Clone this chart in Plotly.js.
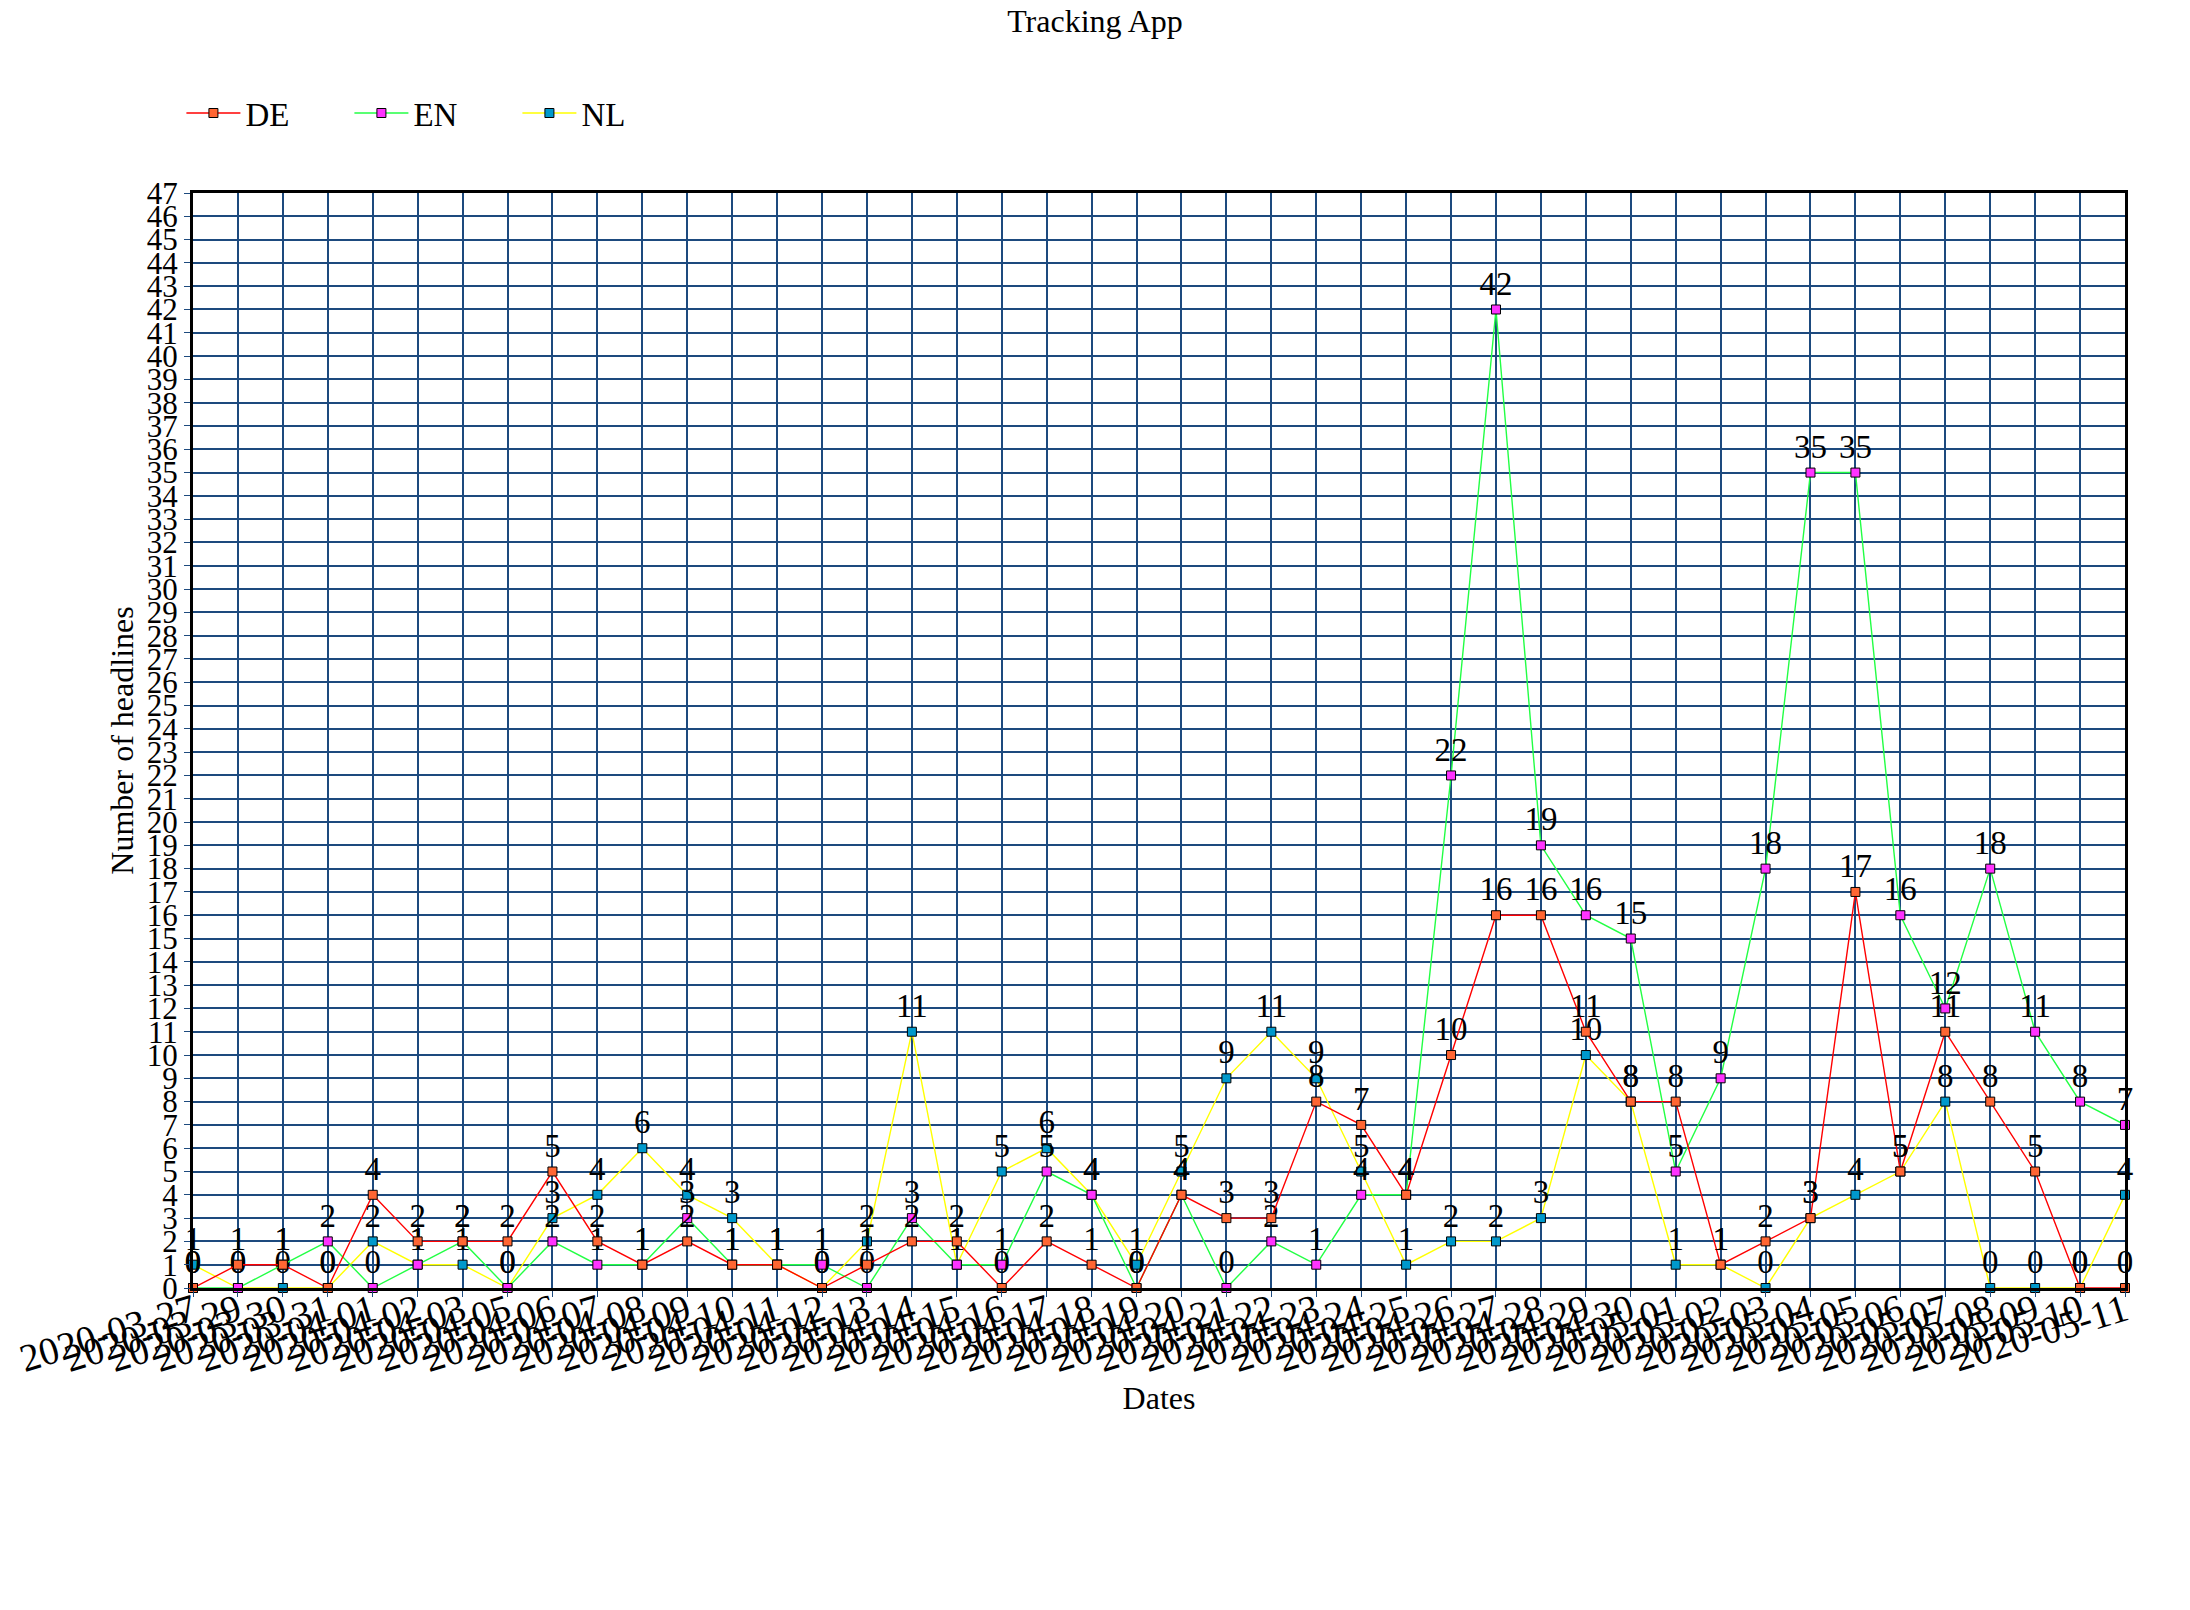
<!DOCTYPE html>
<html>
<head>
<meta charset="utf-8">
<script src="https://cdn.plot.ly/plotly-3.0.1.min.js"></script>
<style>html,body{margin:0;padding:0;background:#fff;}#chart{width:2190px;height:1610px;}</style>
</head>
<body>
<div id="chart"></div>
<script>
const dates = ['2020-03-27','2020-03-29','2020-03-30','2020-03-31','2020-04-01','2020-04-02','2020-04-03','2020-04-05','2020-04-06','2020-04-07','2020-04-08','2020-04-09','2020-04-10','2020-04-11','2020-04-12','2020-04-13','2020-04-14','2020-04-15','2020-04-16','2020-04-17','2020-04-18','2020-04-19','2020-04-20','2020-04-21','2020-04-22','2020-04-23','2020-04-24','2020-04-25','2020-04-26','2020-04-27','2020-04-28','2020-04-29','2020-04-30','2020-05-01','2020-05-02','2020-05-03','2020-05-04','2020-05-05','2020-05-06','2020-05-07','2020-05-08','2020-05-09','2020-05-10','2020-05-11'];
const deValues = [0,1,1,0,4,2,2,2,5,2,1,2,1,1,0,1,2,2,0,2,1,0,4,3,3,8,7,4,10,16,16,11,8,8,1,2,3,17,5,11,8,5,0,0];
const enValues = [0,0,1,2,0,1,2,0,2,1,1,3,1,1,1,0,3,1,1,5,4,0,4,0,2,1,4,4,22,42,19,16,15,5,9,18,35,35,16,12,18,11,8,7];
const nlValues = [1,0,0,0,2,1,1,0,3,4,6,4,3,1,0,2,11,1,5,6,4,1,5,9,11,9,5,1,2,2,3,10,8,1,1,0,3,4,5,8,0,0,0,4];
const seriesNames = ['DE','EN','NL'];

const FONT = 'Liberation Serif';
const GRID = '#1d4a7e';

function mk(name, vals, lineColor, markerColor) {
  return {
    type: 'scatter',
    mode: 'lines+markers+text',
    name: name,
    x: dates,
    y: vals,
    texttemplate: '%{y}',
    textposition: 'top center',
    textfont: {family: FONT, size: 33, color: '#000'},
    cliponaxis: false,
    line: {color: lineColor, width: 1.4},
    marker: {symbol: 'square', size: 9, color: markerColor, line: {color: '#000', width: 1}}
  };
}

const traces = [
  mk(seriesNames[2], nlValues, '#ffff00', '#0099cc'),
  mk(seriesNames[1], enValues, '#22ff44', '#ff33ff'),
  mk(seriesNames[0], deValues, '#ff0000', '#ff6633')
];

const layout = {
  width: 2190,
  height: 1610,
  paper_bgcolor: '#fff',
  plot_bgcolor: '#fff',
  font: {family: FONT, color: '#000'},
  margin: {l: 193, r: 65, t: 193, b: 322, pad: 0},
  title: {text: 'Tracking App', font: {family: FONT, size: 32, color: '#000'}, x: 0.5, xanchor: 'center', y: 0.987, yanchor: 'middle', yref: 'container'},
  showlegend: true,
  legend: {orientation: 'h', x: -0.006, xanchor: 'left', y: 1.073, yanchor: 'middle', traceorder: 'reversed', font: {family: FONT, size: 33, color: '#000'}, entrywidth: 99, entrywidthmode: 'pixels', itemwidth: 54, bgcolor: 'rgba(0,0,0,0)'},
  xaxis: {
    type: 'category',
    range: [0, 43],
    autorange: false,
    tickmode: 'linear',
    tick0: 0,
    dtick: 1,
    showgrid: true,
    gridcolor: GRID,
    gridwidth: 2,
    showline: true,
    linecolor: '#000',
    linewidth: 3,
    mirror: true,
    ticks: 'outside',
    ticklen: 6,
    tickcolor: GRID,
    tickangle: -17,
    ticklabelstandoff: -24,
    tickfont: {family: FONT, size: 39, color: '#000'},
    automargin: false,
    title: {text: 'Dates', font: {family: FONT, size: 32, color: '#000'}, standoff: 0}
  },
  yaxis: {
    range: [0, 47],
    autorange: false,
    dtick: 1,
    tick0: 0,
    showgrid: true,
    gridcolor: GRID,
    gridwidth: 2,
    zeroline: false,
    showline: true,
    linecolor: '#000',
    linewidth: 3,
    mirror: true,
    ticks: 'outside',
    ticklen: 6,
    tickcolor: GRID,
    tickfont: {family: FONT, size: 31, color: '#000'},
    automargin: false,
    title: {text: 'Number of headlines', font: {family: FONT, size: 32, color: '#000'}, standoff: 4}
  }
};

Plotly.newPlot('chart', traces, layout, {displayModeBar: false, staticPlot: true});
</script>
</body>
</html>
